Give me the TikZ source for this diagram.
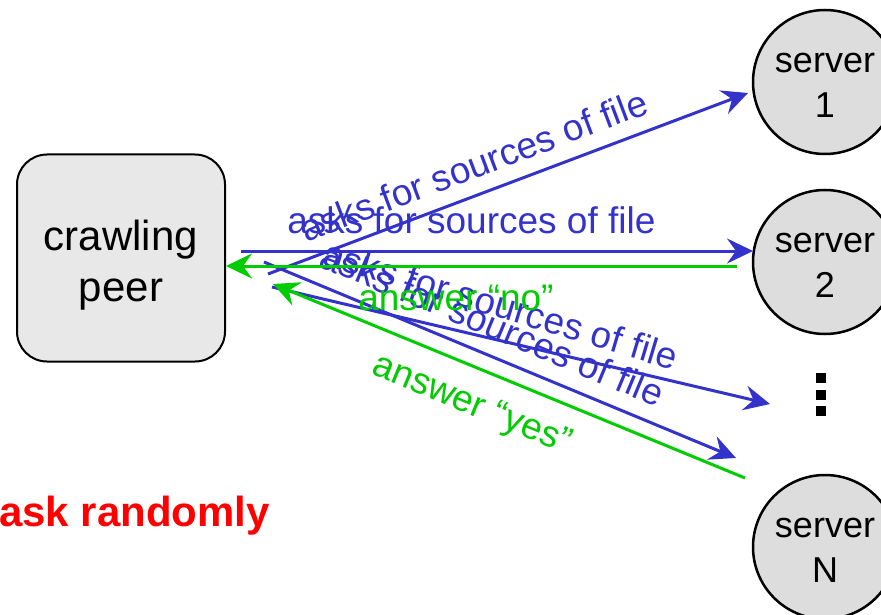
\documentclass[tikz,border=0pt]{standalone}
\usepackage{fontspec}
\setmainfont{Liberation Sans}
\usetikzlibrary{arrows.meta,calc}
\definecolor{askblue}{RGB}{51,51,204}
\definecolor{answergreen}{RGB}{0,204,0}
\definecolor{boxgray}{RGB}{232,232,232}
\definecolor{servergray}{RGB}{221,221,221}
\definecolor{alertred}{RGB}{255,0,0}

\begin{document}
\begin{tikzpicture}[x=1pt,y=-1pt,
  peerbox/.style={draw=black, line width=2pt, fill=boxgray, rounded corners=30pt,
    minimum width=208pt, minimum height=207pt, inner sep=0pt},
  peertext/.style={align=center, inner sep=0pt, yshift=-7pt,
    font=\fontsize{42}{51}\selectfont},
  server/.style={circle, draw=black, line width=2.5pt, fill=servergray,
    minimum size=144pt, inner sep=0pt},
  servertext/.style={align=center, inner sep=0pt, yshift=-3pt,
    font=\fontsize{36}{45}\selectfont},
  tip/.style={-{Stealth[length=26pt,width=25pt,inset=9pt]}},
  ask/.style={draw=askblue, line width=3pt, tip},
  answer/.style={draw=answergreen, line width=3pt, tip},
  msgfont/.style={font=\fontsize{37}{44}\selectfont, inner sep=0pt},
  asklabel/.style={text=askblue, msgfont, sloped},
  answerlabel/.style={text=answergreen, msgfont, sloped},
]
\useasboundingbox (0,0) rectangle (881,615);

% peer and servers
\node[peerbox, label={[peertext]center:crawling\\peer}] (peer) at (121,258) {};
\node[server, label={[servertext]center:server\\1}] (s1) at (825,82) {};
\node[server, label={[servertext]center:server\\2}] (s2) at (825,262) {};
\node[server, label={[servertext]center:server\\N}] (sN) at (825,547) {};

% vertical ellipsis between server 2 and server N
\foreach \yy in {378,395,411}
  \fill[black] (816,\yy-5) rectangle (826,\yy+5);

% end points of the messages
\coordinate (q1) at (268,274);  \coordinate (r1) at (748,93);
\coordinate (q2) at (241,251);  \coordinate (r2) at (753,251);
\coordinate (a2) at (737,266);  \coordinate (b2) at (226,266);
\coordinate (qA) at (264,262);  \coordinate (rA) at (736,458);
\coordinate (qB) at (272,287);  \coordinate (rB) at (770,404);
\coordinate (aN) at (745,478);  \coordinate (bN) at (273,284);

% requests
\draw[ask] (q1) -- node[asklabel, above=14pt, pos=0.45] {asks for sources of file} (r1);
\draw[ask] (q2) -- node[asklabel, above=16pt, pos=0.45] {asks for sources of file} (r2);
\draw[ask] (qB) -- (rB);
\node[text=askblue, msgfont, rotate=-16.7] (labB) at ($(qB)!0.46!(rB)+(0,-36)$)
  {asks for sources of file};
\draw[ask] (qA) -- node[asklabel, above=15pt, pos=0.46] {asks for sources of file} (rA);

% replies
\draw[answer] (a2) -- node[answerlabel, below=18pt, pos=0.55] {answer “no”} (b2);
\draw[answer] (aN) -- node[answerlabel, below=19pt, pos=0.55] {answer “yes”} (bN);

\node[text=alertred, font=\bfseries\fontsize{42}{50}\selectfont, anchor=base east,
  inner sep=0pt] (rand) at (270,526) {ask randomly};
\end{tikzpicture}
\end{document}
